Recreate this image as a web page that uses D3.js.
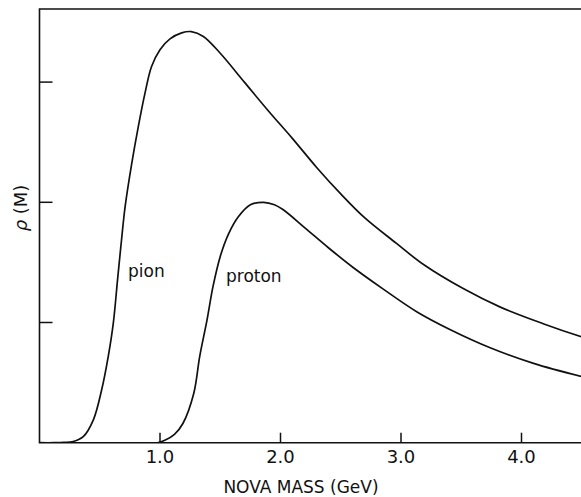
<!DOCTYPE html>
<html>
<head>
<meta charset="utf-8">
<script src="https://cdn.jsdelivr.net/npm/d3@7"></script>
<style>
  html, body { margin: 0; padding: 0; background: #fff; }
  svg { display: block; }
  text { font-family: "DejaVu Sans", Verdana, sans-serif; fill: #111; }
</style>
</head>
<body>
<div id="chart"></div>
<script>
// Values (mass in GeV, rho in tick units)
const pionMass = [0, 0.12, 0.20, 0.28, 0.363, 0.447, 0.516, 0.571, 0.612, 0.65, 0.68, 0.71, 0.765, 0.82, 0.876, 0.93, 1.0, 1.083, 1.18, 1.26, 1.36, 1.50, 1.70, 1.90, 2.10, 2.30, 2.50, 2.70, 2.96, 3.19, 3.52, 3.82, 4.18, 4.50];
const pionRho  = [0, 0, 0.002, 0.01, 0.05, 0.19, 0.44, 0.72, 0.99, 1.38, 1.68, 1.96, 2.32, 2.63, 2.91, 3.13, 3.27, 3.36, 3.41, 3.42, 3.38, 3.24, 3.00, 2.76, 2.53, 2.29, 2.07, 1.87, 1.66, 1.48, 1.28, 1.13, 0.99, 0.88];

const protonMass = [0.98, 1.04, 1.12, 1.19, 1.28, 1.33, 1.39, 1.44, 1.50, 1.57, 1.65, 1.75, 1.86, 1.95, 2.02, 2.20, 2.40, 2.60, 2.85, 3.13, 3.41, 3.74, 4.10, 4.50];
const protonRho  = [0, 0.02, 0.07, 0.16, 0.41, 0.72, 1.02, 1.30, 1.55, 1.74, 1.88, 1.98, 2.00, 1.98, 1.94, 1.79, 1.62, 1.46, 1.28, 1.09, 0.94, 0.79, 0.66, 0.55];

const xTicks = [1, 2, 3, 4];
const xTickLabels = ['1.0', '2.0', '3.0', '4.0'];
const yTicks = [1, 2, 3];

const width = 581, height = 497;
const marginLeft = 39.5, plotTop = 9, plotBottom = 442.7;

const x = d3.scaleLinear().domain([0, 4.5]).range([marginLeft, marginLeft + 4.5 * 120.5]);
const y = d3.scaleLinear().domain([0, (plotBottom - plotTop) / 120.2]).range([plotBottom, plotTop]);

const svg = d3.select('#chart').append('svg')
  .attr('width', width).attr('height', height);

const ink = '#111';

// keep the smoothed curves from dipping under the baseline
svg.append('defs').append('clipPath').attr('id', 'plot-clip')
  .append('rect')
  .attr('x', marginLeft).attr('y', plotTop)
  .attr('width', width - marginLeft).attr('height', plotBottom - plotTop);

// frame: top border, left axis, bottom axis
svg.append('path')
  .attr('d', `M${width},${plotTop}H${marginLeft}V${plotBottom}H${width}`)
  .attr('fill', 'none').attr('stroke', ink).attr('stroke-width', 1.6);

// x ticks point up into the plot
const xAxis = svg.append('g');
xTicks.forEach((t, i) => {
  xAxis.append('line')
    .attr('x1', x(t)).attr('x2', x(t))
    .attr('y1', plotBottom).attr('y2', plotBottom - 10)
    .attr('stroke', ink).attr('stroke-width', 1.5);
  xAxis.append('text')
    .attr('x', x(t)).attr('y', plotBottom + 20)
    .attr('text-anchor', 'middle')
    .attr('font-size', '18px')
    .text(xTickLabels[i]);
});

// y ticks, no labels
yTicks.forEach(t => {
  svg.append('line')
    .attr('x1', marginLeft).attr('x2', marginLeft + 13)
    .attr('y1', y(t)).attr('y2', y(t))
    .attr('stroke', ink).attr('stroke-width', 1.5);
});

// axis titles
svg.append('text')
  .attr('x', 301).attr('y', 493)
  .attr('text-anchor', 'middle')
  .attr('font-size', '17px')
  .text('NOVA MASS (GeV)');

const yTitle = svg.append('text')
  .attr('transform', 'translate(27,208) rotate(-90)')
  .attr('text-anchor', 'middle')
  .attr('font-size', '18px');
yTitle.append('tspan').attr('font-style', 'italic').text('ρ');
yTitle.append('tspan').text(' (M)');

// curves
const line = d3.line()
  .x(d => x(d[0]))
  .y(d => y(d[1]))
  .curve(d3.curveCatmullRom.alpha(0.5));

const series = [
  { name: 'pion', mass: pionMass, rho: pionRho, lx: 128, ly: 277 },
  { name: 'proton', mass: protonMass, rho: protonRho, lx: 226, ly: 282 }
];

series.forEach(s => {
  const pts = s.mass.map((m, i) => [m, s.rho[i]]);
  svg.append('path')
    .attr('d', line(pts))
    .attr('clip-path', 'url(#plot-clip)')
    .attr('fill', 'none')
    .attr('stroke', ink).attr('stroke-width', 1.7);
  svg.append('text')
    .attr('x', s.lx).attr('y', s.ly)
    .attr('font-size', '17px')
    .text(s.name);
});
</script>
</body>
</html>
